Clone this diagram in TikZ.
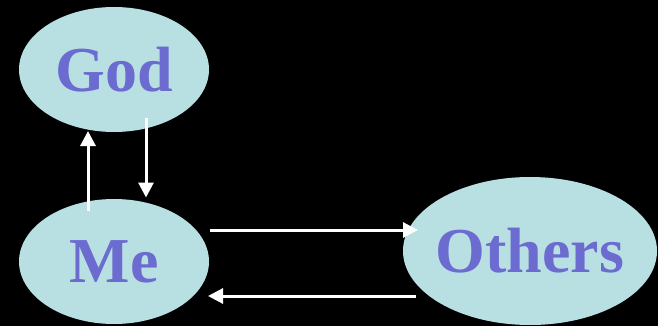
\documentclass[tikz,border=0pt]{standalone}
\usepackage{fontspec}
\setmainfont{Liberation Serif}
\usepackage{tikz}
\usetikzlibrary{shapes.geometric,arrows.meta}
\definecolor{bubblefill}{HTML}{B8E0E3}
\definecolor{wordcolor}{HTML}{6B6BD0}
\tikzset{
    %Define standard arrow tip
    >={Triangle[length=15pt,width=15pt]},
    %Define style for bubbles
    bubble/.style={
           ellipse,
           fill=bubblefill,
           inner sep=0pt},
    %Define style for the words
    word/.style={
           text=wordcolor,
           font=\bfseries\fontsize{64}{64}\selectfont},
    % Define arrow style
    arrow/.style={
           ->,
           draw=white,
           line width=3pt,
           }
}
\begin{document}
\begin{tikzpicture}[x=1pt, y=-1pt]
    \fill[black] (0,0) rectangle (658,326);
    \useasboundingbox (0,0) rectangle (658,326);
    \node [bubble, minimum width=190, minimum height=125, label={[word]center:God}] (God) at (114,69.5) {};
    \node [bubble, minimum width=190, minimum height=125, label={[word]center:Me}] (Me) at (114,261.5) {};
    \node [bubble, minimum width=254, minimum height=148, label={[word]center:Others}] (Others) at (530,251) {};

	\draw[arrow] ([shift={(-26,-51)}]Me.center) -- ([shift={(-26,61.5)}]God.center);
	\draw[arrow] ([shift={(32,48.5)}]God.center) -- ([shift={(32,-64)}]Me.center);
	\draw[arrow] ([shift={(96,-31.5)}]Me.center) -- ([shift={(-112,-21)}]Others.center);
	\draw[arrow] ([shift={(-114,45)}]Others.center) -- ([shift={(94,34.5)}]Me.center);
\end{tikzpicture}
\end{document}
